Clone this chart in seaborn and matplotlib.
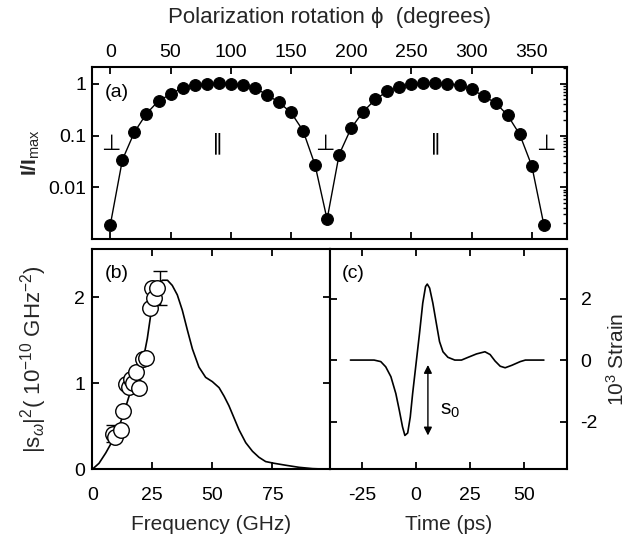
import numpy as np
import pandas as pd
import matplotlib
matplotlib.use("Agg")
import matplotlib.pyplot as plt
import seaborn as sns
from matplotlib.ticker import LogLocator, NullFormatter, FixedLocator

# ---------------- data ----------------
phi_deg = [0, 10, 20, 30, 40, 50, 60, 70, 80, 90, 100, 110, 120, 130, 140, 150, 160, 170, 180,
           190, 200, 210, 220, 230, 240, 250, 260, 270, 280, 290, 300, 310, 320, 330, 340, 350, 360]
intensity = [0.0019, 0.034, 0.117, 0.266, 0.47, 0.63, 0.85, 0.94, 0.99, 1.02, 1.0, 0.94, 0.83,
             0.62, 0.44, 0.28, 0.125, 0.027, 0.0024,
             0.043, 0.14, 0.29, 0.5, 0.72, 0.87, 0.99, 1.02, 1.03, 1.0, 0.96, 0.79, 0.58,
             0.43, 0.246, 0.105, 0.026, 0.0019]
pol_labels = ["⊥", "∥", "⊥", "∥", "⊥"]
pol_label_pos = [0, 89, 178, 270, 362]

freq_curve = [0, 2.8, 5.6, 7.6, 10.4, 13.2, 15.3, 17.4, 19.4, 21.5, 22.9, 24.3, 25.7, 27.1, 29.2,
              31.3, 33.3, 35.4, 37.5, 39.6, 41.7, 44.4, 47.2, 50.0, 52.8, 54.9, 56.9, 59.0, 61.1,
              63.9, 66.7, 69.4, 72.2, 75.7, 80.6, 86.1, 91.7, 99.0]
spec_curve = [0, 0.07, 0.19, 0.29, 0.44, 0.66, 0.85, 1.01, 1.15, 1.32, 1.52, 1.79, 2.03, 2.14, 2.20,
              2.20, 2.14, 2.03, 1.85, 1.62, 1.40, 1.19, 1.07, 1.02, 0.95, 0.85, 0.74, 0.60, 0.46,
              0.31, 0.21, 0.14, 0.09, 0.07, 0.047, 0.023, 0.008, 0.0]
freq_data = [8.6, 9.4, 11.8, 12.8, 13.9, 15.3, 16.1, 17.1, 18.1, 19.4, 21.1, 22.2, 23.9, 25.0, 25.7, 27.1]
spec_data = [0.41, 0.38, 0.46, 0.68, 0.99, 0.96, 1.05, 1.01, 1.13, 0.95, 1.28, 1.29, 1.88, 2.11, 1.99, 2.11]
err_freq = [8.6, 28.0]
err_val = [0.42, 2.11]
err_size = [0.10, 0.20]

time_ps = [-30.5, -19.5, -16.4, -14.1, -11.7, -9.4, -7.8, -6.3, -5.2, -3.9, -2.7, -1.6, 0.0, 1.6,
           3.1, 4.4, 5.2, 6.3, 7.8, 9.4, 10.9, 12.5, 14.8, 18.0, 21.1, 24.2, 28.1, 32.0, 34.4,
           36.7, 39.1, 41.4, 44.5, 48.4, 50.8, 59.4]
strain = [0, 0, -0.05, -0.22, -0.54, -1.09, -1.63, -2.17, -2.45, -2.37, -1.85, -1.09, -0.11, 0.87,
          1.85, 2.39, 2.47, 2.34, 1.85, 1.20, 0.60, 0.27, 0.09, 0.0, 0.0, 0.09, 0.20, 0.27, 0.18,
          -0.03, -0.20, -0.25, -0.17, -0.05, 0.0, 0.0]

# ---------------- style ----------------
sns.set_style("ticks")
plt.rcParams.update({
    "font.family": ["Liberation Sans", "DejaVu Sans"],
    "mathtext.fontset": "custom",
    "mathtext.rm": "Liberation Sans",
    "mathtext.it": "Liberation Sans:italic",
    "mathtext.bf": "Liberation Sans:bold",
    "axes.unicode_minus": False,
    "axes.linewidth": 1.5,
    "axes.edgecolor": "black",
    "xtick.direction": "in",
    "ytick.direction": "in",
    "xtick.major.size": 5,
    "ytick.major.size": 5,
    "xtick.major.width": 1.3,
    "ytick.major.width": 1.3,
    "ytick.minor.size": 3,
    "ytick.minor.width": 1.0,
    "xtick.labelsize": 14,
    "ytick.labelsize": 14,
    "text.color": "black",
    "xtick.color": "black",
    "ytick.color": "black",
    "lines.solid_joinstyle": "round",
})

fig = plt.figure(figsize=(6.41, 5.43), dpi=100)
W, H = 641.0, 543.0
def rect(x0, y0, x1, y1):
    return [x0 / W, 1 - y1 / H, (x1 - x0) / W, (y1 - y0) / H]

ax_a = fig.add_axes(rect(92.3, 66.7, 566.7, 239.0))
ax_b = fig.add_axes(rect(92.3, 249.3, 330.0, 469.3))
ax_c = fig.add_axes(rect(330.0, 249.3, 566.7, 469.3))

# ---------------- panel (a) ----------------
df_a = pd.DataFrame({"phi": phi_deg, "I": intensity})
sns.lineplot(data=df_a, x="phi", y="I", ax=ax_a, color="black", linewidth=1.0,
             marker="o", markersize=8.5, markeredgecolor="black", markerfacecolor="black")
ax_a.set_yscale("log")
ax_a.set_xlim(-15, 379)
ax_a.set_ylim(0.001, 2.15)
ax_a.xaxis.set_major_locator(FixedLocator([0, 50, 100, 150, 200, 250, 300, 350]))
ax_a.xaxis.tick_top()
ax_a.xaxis.set_label_position("top")
ax_a.tick_params(axis="x", which="both", top=True, bottom=True, labeltop=True, labelbottom=False, pad=4)
ax_a.set_yticks([1, 0.1, 0.01])
ax_a.set_yticklabels(["1", "0.1", "0.01"])
ax_a.yaxis.set_minor_locator(LogLocator(base=10, subs=np.arange(2, 10)))
ax_a.yaxis.set_minor_formatter(NullFormatter())
ax_a.tick_params(axis="y", which="major", left=True, right=True, pad=4)
ax_a.tick_params(axis="y", which="minor", left=False, right=True)
ax_a.set_xlabel("Polarization rotation ϕ  (degrees)", fontsize=16, labelpad=15)
ax_a.set_ylabel(r"$\mathbf{I/I}_{\mathrm{max}}$", fontsize=15, labelpad=5)
for lab, pos in zip(pol_labels, pol_label_pos):
    ax_a.text(pos, 0.07, lab, ha="center", va="center", fontsize=16,
              family=["DejaVu Sans"])
ax_a.text(0.027, 0.85, "(a)", transform=ax_a.transAxes, ha="left", va="center", fontsize=14)

# ---------------- panel (b) ----------------
df_bc = pd.DataFrame({"f": freq_curve, "s": spec_curve})
sns.lineplot(data=df_bc, x="f", y="s", ax=ax_b, color="black", linewidth=1.2)
ax_b.errorbar(err_freq, err_val, yerr=err_size, fmt="none", ecolor="black",
              elinewidth=1.0, capsize=5, capthick=1.0, zorder=2)
df_bd = pd.DataFrame({"f": freq_data, "s": spec_data})
sns.scatterplot(data=df_bd, x="f", y="s", ax=ax_b, s=125, facecolor="white",
                edgecolor="black", linewidth=1.0, zorder=3)
ax_b.set_xlim(0, 99)
ax_b.set_ylim(0, 2.56)
ax_b.set_xticks([0, 25, 50, 75])
ax_b.set_yticks([0, 1, 2])
ax_b.tick_params(axis="x", top=True, bottom=True, pad=13)
ax_b.tick_params(axis="y", left=True, right=True, pad=5)
ax_b.set_xlabel("Frequency (GHz)", fontsize=15, labelpad=8)
ax_b.set_ylabel(r"|s$_\omega$|$^2$( 10$^{-10}$ GHz$^{-2}$)", fontsize=16, labelpad=18)
ax_b.text(0.053, 0.89, "(b)", transform=ax_b.transAxes, ha="left", va="center", fontsize=14)

# ---------------- panel (c) ----------------
df_c = pd.DataFrame({"t": time_ps, "e": strain})
sns.lineplot(data=df_c, x="t", y="e", ax=ax_c, color="black", linewidth=1.2)
ax_c.set_xlim(-40, 70)
ax_c.set_ylim(-3.55, 3.6)
ax_c.set_xticks([-25, 0, 25, 50])
ax_c.set_yticks([-2, 0, 2])
ax_c.yaxis.tick_right()
ax_c.yaxis.set_label_position("right")
ax_c.tick_params(axis="x", top=True, bottom=True, pad=13)
ax_c.tick_params(axis="y", left=True, right=True, labelleft=False, labelright=True, pad=10)
ax_c.set_xlabel("Time (ps)", fontsize=15, labelpad=8)
ax_c.set_ylabel(r"10$^3$ Strain", fontsize=15, labelpad=6)
ax_c.annotate("", xy=(5.5, -2.45), xytext=(5.5, -0.16),
              arrowprops=dict(arrowstyle="<|-|>", color="black", lw=1.0,
                              mutation_scale=12, shrinkA=0, shrinkB=0))
ax_c.text(10.9, -1.63, r"s$_0$", ha="left", va="center", fontsize=15)
ax_c.text(0.05, 0.89, "(c)", transform=ax_c.transAxes, ha="left", va="center", fontsize=14)

fig.savefig("out.png", dpi=100)
